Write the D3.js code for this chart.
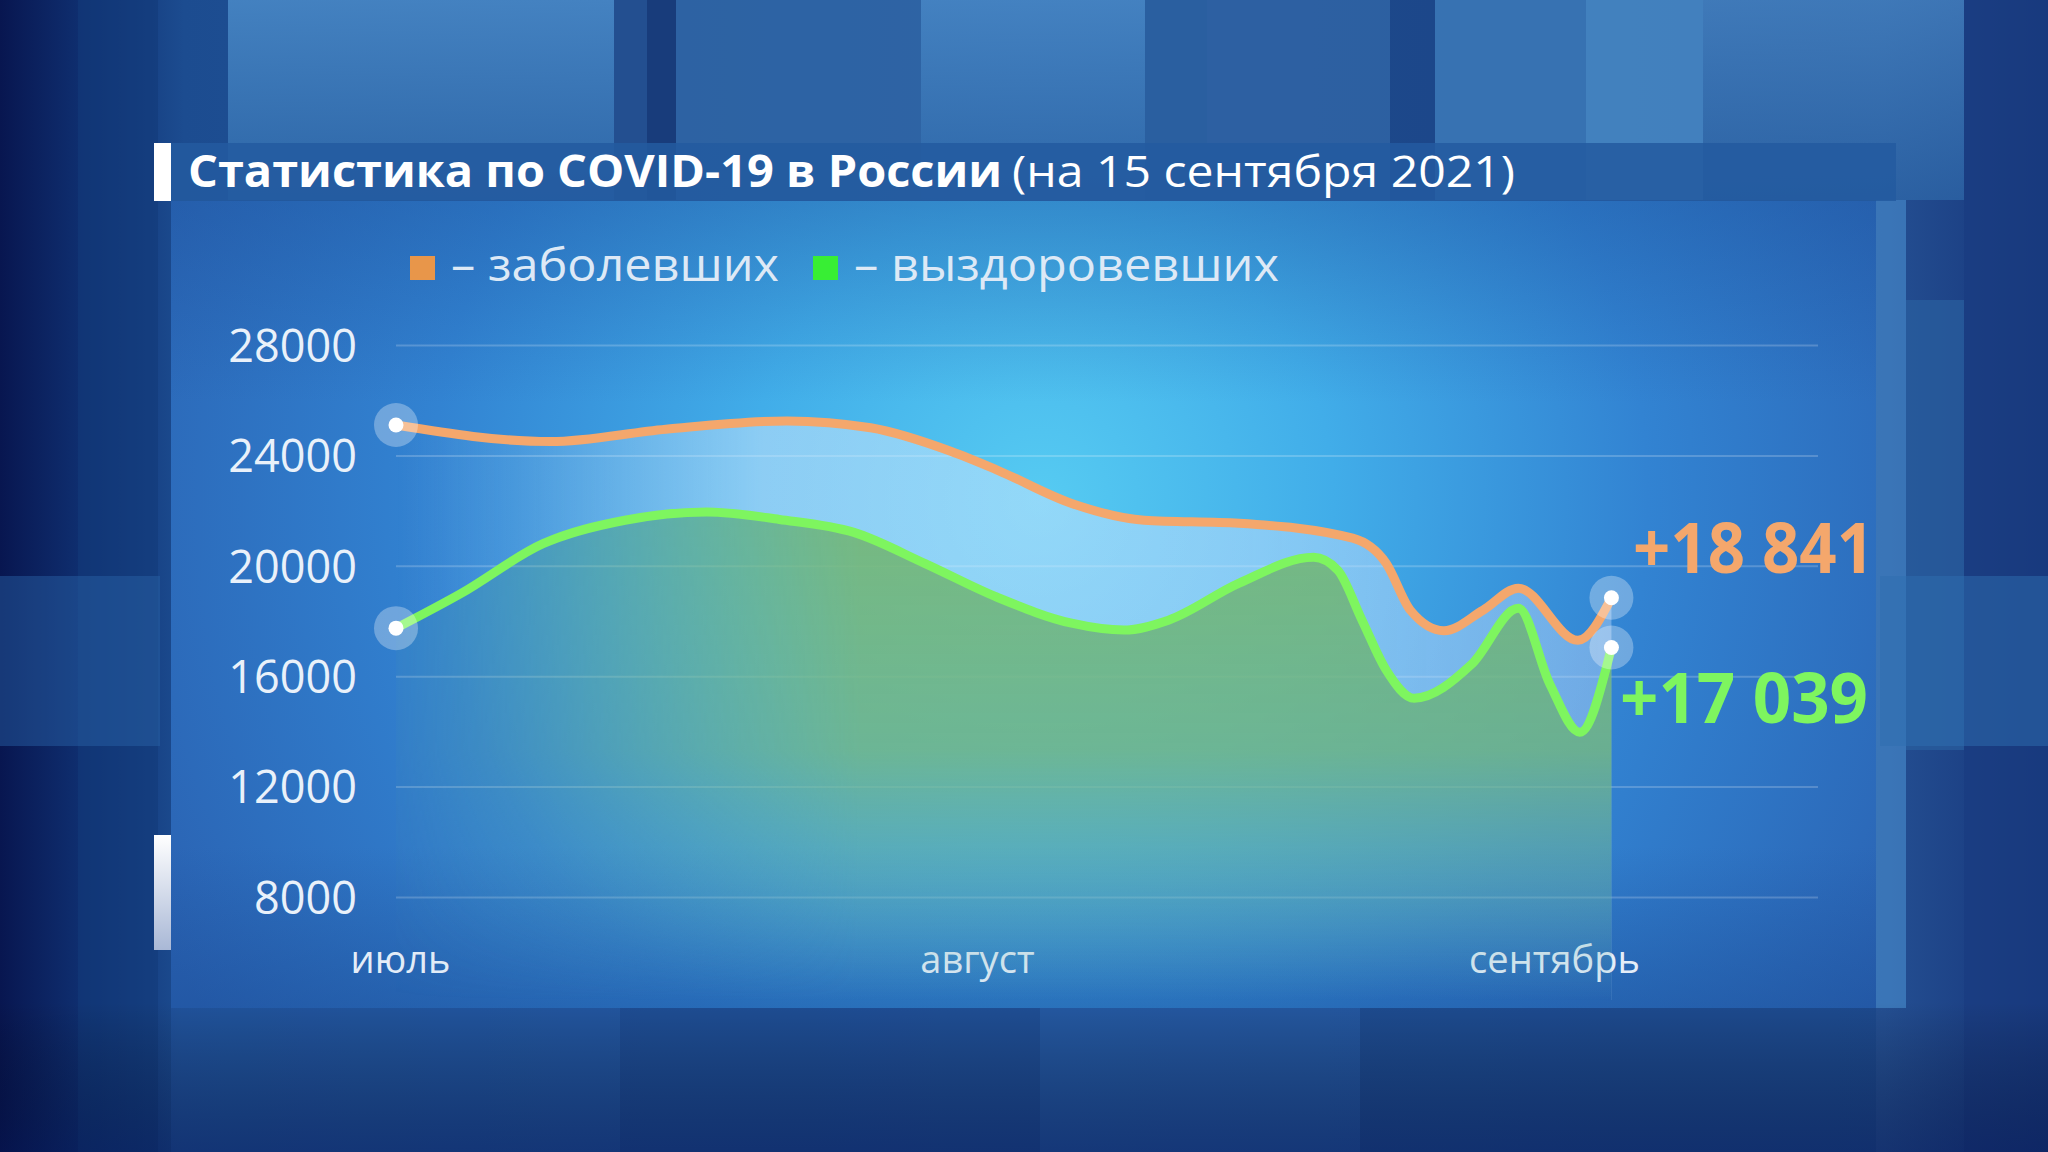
<!DOCTYPE html>
<html>
<head>
<meta charset="utf-8">
<script src="https://cdn.jsdelivr.net/npm/d3@7"></script>
<style>
html, body { margin: 0; padding: 0; background: #0c2a6e; overflow: hidden; }
svg { display: block; }
text { font-family: "Open Sans", "DejaVu Sans", sans-serif; }
</style>
</head>
<body>
<div id="chart"></div>
<script>
/* global d3 */

// data //

const monthLabels = ["июль", "август", "сентябрь"];
const monthDays = [0, 31, 62];

const yTicks = [8000, 12000, 16000, 20000, 24000, 28000];

// заболевших (smoothed), day 0 = 1 July
const casesDays =   [0,     8.3,   14.5,  21,    25.5,  29.8,  32.3,  36.3,  40.2,  45.3,  51.4,  53.2,  54.5,  56.3,  58.4,  60.3,  63.5,  65.3];
const casesValues = [25100, 24500, 24950, 25250, 25000, 24150, 23470, 22260, 21650, 21540, 21000, 20090, 18390, 17650, 18390, 19190, 17300, 18841];

// выздоровевших (smoothed)
const recovDays =   [0,     3.5,   7.9,   12.3,  16.7,  20.6,  24.6,  28.4,  32.3,  36.3,  39.1,  41.5,  45.3,  49.3,  50.6,  51.9,  53.2,  54.7,  57.8,  60.3,  62,    63.6,  65.3];
const recovValues = [17740, 19000, 20800, 21650, 21950, 21680, 21210, 20090, 18860, 17920, 17670, 18030, 19370, 20310, 19840, 18030, 16220, 15200, 16440, 18460, 15700, 13970, 17039];

const legendLabels = ["– заболевших", "– выздоровевших"];
const lastLabels = ["+18 841", "+17 039"];

const titleBold = "Статистика по COVID-19 в России";
const titleRest = "(на 15 сентября 2021)";

// page setup //

let SVGwidth = 2048,
    SVGheight = 1152;

let panel = {left: 171, top: 201, right: 1876, bottom: 1008};
let plot = {left: 396, right: 1818, top: 345, bottom: 897};

let svg = d3.select("#chart").append("svg")
    .attr("width", SVGwidth)
    .attr("height", SVGheight);

let defs = svg.append("defs");

function linearGrad(id, x1, y1, x2, y2, stops) {
    let g = defs.append("linearGradient")
        .attr("id", id)
        .attr("gradientUnits", "userSpaceOnUse")
        .attr("x1", x1).attr("y1", y1).attr("x2", x2).attr("y2", y2);
    stops.forEach(function(s) {
        g.append("stop")
            .attr("offset", s[0])
            .attr("stop-color", s[1])
            .attr("stop-opacity", s[2] === undefined ? 1 : s[2]);
    });
    return g;
}

linearGrad("bgH", 0, 0, SVGwidth, 0, [
    [0, "#081650"], [0.04, "#0f2f70"], [0.09, "#1c4c90"], [0.5, "#2a60a4"], [0.92, "#244f92"], [1, "#16357a"]
]);
linearGrad("bgV", 0, 0, 0, SVGheight, [
    [0, "#000000", 0], [0.87, "#000000", 0], [1, "#031048", 0.45]
]);
linearGrad("topBlock", 0, 0, 0, 200, [
    [0, "#4a8ac8"], [1, "#2f69aa"]
]);
linearGrad("sideBar", 0, 835, 0, 950, [
    [0, "#ffffff"], [1, "#a9b8d6"]
]);

let panelGrad = defs.append("radialGradient")
    .attr("id", "panelGrad")
    .attr("gradientUnits", "userSpaceOnUse")
    .attr("cx", 1040).attr("cy", 500).attr("r", 980);
[[0, "#56cbf2"], [0.3, "#41ade9"], [0.62, "#3283d2"], [1, "#2a62b2"]].forEach(function(s) {
    panelGrad.append("stop").attr("offset", s[0]).attr("stop-color", s[1]);
});
linearGrad("panelShade", 0, panel.top, 0, panel.bottom, [
    [0, "#1a4c96", 0.35], [0.25, "#1a4c96", 0], [0.8, "#1a4c96", 0], [1, "#1a4c96", 0.45]
]);

// fill between the lines
linearGrad("bandFill", plot.left, 0, 1620, 0, [
    [0, "#d8ecff", 0], [0.1, "#d8ecff", 0.12], [0.3, "#d8ecff", 0.5], [0.7, "#c9e2ff", 0.5], [1, "#b8d6fa", 0.45]
]);
// fill under the green line
linearGrad("greenFill", 0, 500, 0, 1000, [
    [0, "#7ab978", 0.95], [0.5, "#74b786", 0.85], [0.8, "#68b2aa", 0.45], [1, "#66b0b8", 0]
]);
linearGrad("fadeLeft", plot.left, 0, 860, 0, [
    [0, "#ffffff", 0.05], [0.3, "#ffffff", 0.3], [1, "#ffffff", 1]
]);

let fadeMask = defs.append("mask")
    .attr("id", "fadeMask")
    .attr("maskUnits", "userSpaceOnUse")
    .attr("x", 0).attr("y", 0).attr("width", SVGwidth).attr("height", SVGheight);
fadeMask.append("rect")
    .attr("x", 0).attr("y", 0).attr("width", SVGwidth).attr("height", SVGheight)
    .style("fill", "url(#fadeLeft)");

// background decoration //

svg.append("rect")
    .attr("width", SVGwidth).attr("height", SVGheight)
    .style("fill", "url(#bgH)");

let blocks = [
    [228, 0, 386, 200, "url(#topBlock)", 0.85],
    [614, 0, 33, 200, "#244f8f", 0.9],
    [647, 0, 29, 200, "#173a78", 0.9],
    [676, 0, 245, 200, "#2f65a5", 0.8],
    [921, 0, 224, 200, "url(#topBlock)", 0.8],
    [1145, 0, 62, 200, "#2a5fa0", 0.9],
    [1207, 0, 183, 200, "#2e62a2", 0.8],
    [1390, 0, 45, 200, "#1c4688", 0.9],
    [1435, 0, 151, 200, "#3a75b5", 0.9],
    [1586, 0, 117, 200, "#4a8cc8", 0.8],
    [1703, 0, 261, 200, "url(#topBlock)", 0.7],
    [1964, 0, 84, 1152, "#1a3c80", 0.7],
    [1876, 200, 30, 808, "#4a8fd0", 0.6],
    [1906, 300, 58, 450, "#2a5fa0", 0.7],
    [1880, 576, 168, 170, "#2e6db0", 0.5],
    [78, 0, 80, 1152, "#123a7a", 0.6],
    [0, 576, 160, 170, "#2a63a8", 0.45],
    [171, 1008, 1705, 144, "#2256a0", 0.7],
    [620, 1008, 420, 144, "#1a4488", 0.5],
    [1360, 1008, 516, 144, "#17407f", 0.5]
];
svg.append("g").selectAll("rect")
    .data(blocks)
    .enter().append("rect")
    .attr("x", function(d) { return d[0]; })
    .attr("y", function(d) { return d[1]; })
    .attr("width", function(d) { return d[2]; })
    .attr("height", function(d) { return d[3]; })
    .style("fill", function(d) { return d[4]; })
    .style("opacity", function(d) { return d[5]; });

svg.append("rect")
    .attr("width", SVGwidth).attr("height", SVGheight)
    .style("fill", "url(#bgV)");

// panel
svg.append("rect")
    .attr("x", panel.left).attr("y", panel.top)
    .attr("width", panel.right - panel.left).attr("height", panel.bottom - panel.top)
    .style("fill", "url(#panelGrad)");
svg.append("rect")
    .attr("x", panel.left).attr("y", panel.top)
    .attr("width", panel.right - panel.left).attr("height", panel.bottom - panel.top)
    .style("fill", "url(#panelShade)");

// title band
svg.append("rect")
    .attr("x", panel.left).attr("y", 143)
    .attr("width", 1896 - panel.left).attr("height", 58)
    .style("fill", "#235ba0")
    .style("opacity", 0.85);
svg.append("rect")
    .attr("x", 154).attr("y", 143)
    .attr("width", 17).attr("height", 58)
    .style("fill", "#ffffff");
svg.append("rect")
    .attr("x", 154).attr("y", 835)
    .attr("width", 17).attr("height", 115)
    .style("fill", "url(#sideBar)");

svg.append("text")
    .attr("x", 188).attr("y", 187)
    .attr("textLength", 814).attr("lengthAdjust", "spacingAndGlyphs")
    .style("font-size", "44px").style("font-weight", "700").style("fill", "#ffffff")
    .text(titleBold);
svg.append("text")
    .attr("x", 1012).attr("y", 187)
    .attr("textLength", 503).attr("lengthAdjust", "spacingAndGlyphs")
    .style("font-size", "44px").style("fill", "#ffffff")
    .text(titleRest);

// scales and axes //

let xScale = d3.scaleLinear().domain([0, 62]).range([plot.left, 1550]);
let yScale = d3.scaleLinear().domain([8000, 28000]).range([plot.bottom, plot.top]);

let yAxis = d3.axisLeft(yScale)
    .tickValues(yTicks)
    .tickSize(-(plot.right - plot.left))
    .tickPadding(39)
    .tickFormat(d3.format("d"));

let yG = svg.append("g")
    .attr("class", "yAxis")
    .attr("transform", "translate(" + plot.left + ",0)")
    .call(yAxis);
yG.select(".domain").remove();
yG.selectAll(".tick line")
    .style("stroke", "#ffffff")
    .style("stroke-opacity", 0.2)
    .style("stroke-width", 2);
yG.selectAll(".tick text")
    .attr("dy", "0.36em")
    .style("font-size", "45px")
    .style("font-family", "'Open Sans', sans-serif")
    .style("fill", "#e9f1fa");

let xAxis = d3.axisBottom(xScale)
    .tickValues(monthDays)
    .tickSize(0)
    .tickFormat(function(d, i) { return monthLabels[i]; });

let xG = svg.append("g")
    .attr("class", "xAxis")
    .attr("transform", "translate(0,973)")
    .call(xAxis);
xG.select(".domain").remove();
xG.selectAll(".tick text")
    .attr("y", 0).attr("dy", 0)
    .attr("dx", 4)
    .style("font-size", "38px")
    .style("font-family", "'Open Sans', sans-serif")
    .style("fill", "#e4edf8");

// series //

let cases = casesDays.map(function(d, i) { return {day: d, value: casesValues[i]}; });
let recov = recovDays.map(function(d, i) { return {day: d, value: recovValues[i]}; });

let fillBottom = 1000;

let line = d3.line()
    .x(function(d) { return xScale(d.day); })
    .y(function(d) { return yScale(d.value); })
    .curve(d3.curveMonotoneX);

let area = d3.area()
    .x(function(d) { return xScale(d.day); })
    .y0(fillBottom)
    .y1(function(d) { return yScale(d.value); })
    .curve(d3.curveMonotoneX);

// band between the two lines: area under cases minus area under recovered
let bandMask = defs.append("mask")
    .attr("id", "bandMask")
    .attr("maskUnits", "userSpaceOnUse")
    .attr("x", 0).attr("y", 0).attr("width", SVGwidth).attr("height", SVGheight);
bandMask.append("path").attr("d", area(cases)).style("fill", "#ffffff");
bandMask.append("path").attr("d", area(recov)).style("fill", "#000000");

svg.append("rect")
    .attr("x", plot.left).attr("y", plot.top)
    .attr("width", 1620 - plot.left).attr("height", fillBottom - plot.top)
    .attr("mask", "url(#bandMask)")
    .style("fill", "url(#bandFill)");

svg.append("path")
    .attr("d", area(recov))
    .attr("mask", "url(#fadeMask)")
    .style("fill", "url(#greenFill)");

let seriesColors = ["#f4a76c", "#7ef55f"];
let legendColors = ["#e8964a", "#38ee34"];

[cases, recov].forEach(function(s, i) {
    svg.append("path")
        .attr("d", line(s))
        .style("fill", "none")
        .style("stroke", seriesColors[i])
        .style("stroke-width", 9)
        .style("stroke-linecap", "round")
        .style("stroke-linejoin", "round");
});

// end point markers
let markers = [cases[0], cases[cases.length - 1], recov[0], recov[recov.length - 1]];
let mk = svg.append("g").selectAll("g")
    .data(markers)
    .enter().append("g")
    .attr("transform", function(d) { return "translate(" + xScale(d.day) + "," + yScale(d.value) + ")"; });
mk.append("circle")
    .attr("r", 22)
    .style("fill", "#ffffff")
    .style("opacity", 0.3);
mk.append("circle")
    .attr("r", 7.5)
    .style("fill", "#ffffff");

// last values
let lastPos = [{x: 1633, y: 573, w: 241}, {x: 1620, y: 723, w: 248}];
lastLabels.forEach(function(t, i) {
    svg.append("text")
        .attr("x", lastPos[i].x).attr("y", lastPos[i].y)
        .attr("textLength", lastPos[i].w).attr("lengthAdjust", "spacingAndGlyphs")
        .style("font-size", "70px").style("font-weight", "700")
        .style("fill", seriesColors[i])
        .text(t);
});

// legend
let legendX = [410, 813];
let legendW = [328, 425];
let legend = svg.selectAll(".legend")
    .data(legendLabels)
    .enter().append("g")
    .attr("class", "legend")
    .attr("transform", function(d, i) { return "translate(" + legendX[i] + ",0)"; });
legend.append("rect")
    .attr("x", 0).attr("y", 256)
    .attr("width", 25).attr("height", 24)
    .style("fill", function(d, i) { return legendColors[i]; });
legend.append("text")
    .attr("x", 41).attr("y", 281)
    .attr("textLength", function(d, i) { return legendW[i]; })
    .attr("lengthAdjust", "spacingAndGlyphs")
    .style("font-size", "46px")
    .style("fill", "#dde9f6")
    .text(function(d) { return d; });
</script>
</body>
</html>
